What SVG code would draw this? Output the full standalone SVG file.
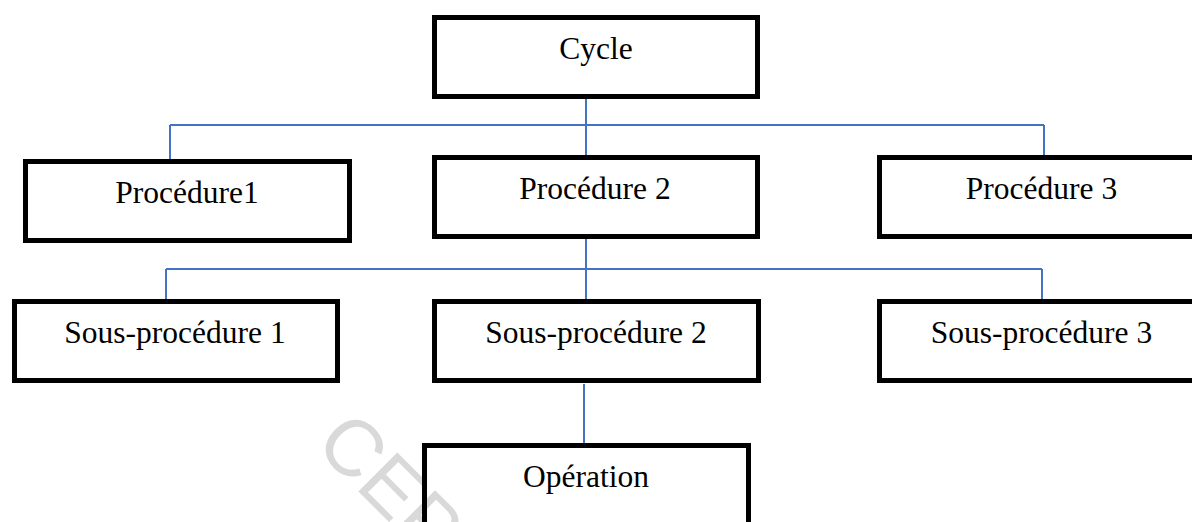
<svg xmlns="http://www.w3.org/2000/svg" width="1192" height="522" viewBox="0 0 1192 522">
<style>
.box{fill:none;stroke:#000;stroke-width:5}
.lbl{font-family:"Liberation Serif","Times New Roman",serif;font-size:31.5px;fill:#000;text-anchor:middle}
.conn{stroke:#4472C4;stroke-width:2;fill:none}
.wm{font-family:"Liberation Sans",Arial,sans-serif;font-size:80px;fill:#d9d9d9}
</style>
<rect width="1192" height="522" fill="#fff"/>
<text class="wm" x="313" y="446" transform="rotate(45 313 446)">CEP</text>
<g id="connectors">
<path class="conn" d="M586 99V160M170 125H1044M170 125V159M1044 125V155"/>
<path class="conn" d="M586 237V301M166 269H1042M166 269V299M1042 269V300"/>
<path class="conn" d="M584 384V445"/>
</g>
<g id="cycle"><rect class="box" x="434.5" y="17.5" width="323" height="79"/><text class="lbl" x="596" y="59">Cycle</text></g>
<g id="procedure1"><rect class="box" x="25.5" y="161.5" width="324" height="79"/><text class="lbl" x="187" y="203">Procédure1</text></g>
<g id="procedure2"><rect class="box" x="434.5" y="157.5" width="323" height="79"/><text class="lbl" x="595" y="199">Procédure 2</text></g>
<g id="procedure3"><rect class="box" x="879.5" y="157.5" width="323" height="79"/><text class="lbl" x="1041.5" y="199">Procédure 3</text></g>
<g id="sousprocedure1"><rect class="box" x="14.5" y="301.5" width="323" height="79"/><text class="lbl" x="175" y="343">Sous-procédure 1</text></g>
<g id="sousprocedure2"><rect class="box" x="434.5" y="301.5" width="324" height="79"/><text class="lbl" x="596" y="343">Sous-procédure 2</text></g>
<g id="sousprocedure3"><rect class="box" x="879.5" y="301.5" width="323" height="79"/><text class="lbl" x="1041.5" y="343">Sous-procédure 3</text></g>
<g id="operation"><rect class="box" x="424.5" y="445.5" width="324" height="79"/><text class="lbl" x="586" y="487">Opération</text></g>
</svg>
